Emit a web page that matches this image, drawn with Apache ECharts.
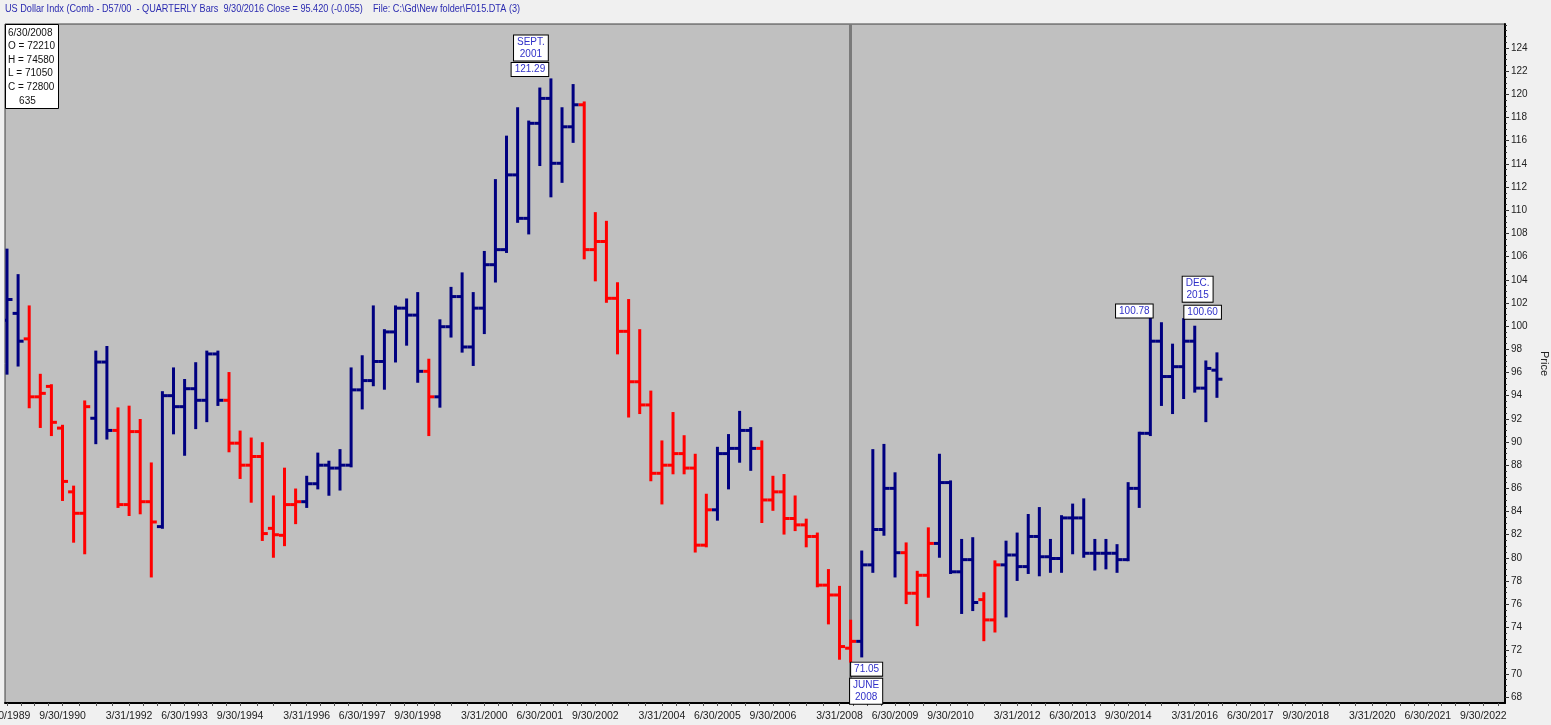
<!DOCTYPE html>
<html>
<head>
<meta charset="utf-8">
<script src="https://cdn.jsdelivr.net/npm/echarts@6/dist/echarts.min.js"></script>
<style>
html,body{margin:0;padding:0;background:#f0f0f0;}
#chart{width:1551px;height:725px;}
</style>
</head>
<body>
<div id="chart"></div>
<script>
// ---- Data (quarterly bars, first bar = 6/30/1989) ----
const opens  = [100.5,101.1,98.9,93.9,94.8,91.2,85.7,83.85,92.05,96.9,
                91.0,84.6,90.9,84.85,82.7,94.0,93.05,94.6,93.6,97.6,
                93.6,89.9,88.0,88.75,82.55,81.95,84.6,84.85,86.4,88.0,
                87.75,88.0,94.5,95.3,96.95,99.5,101.55,100.95,96.1,93.9,
                99.95,102.55,98.2,101.55,105.3,106.6,113.05,109.3,117.5,119.65,
                114.05,117.2,119.1,106.6,107.3,102.4,99.55,95.2,93.2,87.3,
                88.0,89.0,87.75,81.1,84.15,89.0,89.45,91.0,89.45,85.0,
                85.7,83.4,82.85,81.85,77.65,76.8,72.21,72.8,79.4,82.45,
                86.0,80.45,76.95,78.5,81.25,86.5,78.8,79.85,76.4,74.65,
                79.4,80.25,79.25,81.85,80.1,79.95,83.45,83.45,80.4,80.4,
                80.4,79.85,86.0,90.75,98.7,95.65,96.5,98.7,94.65,96.2];
const highs  = [106.6,104.4,101.7,95.8,94.9,91.4,86.15,93.5,97.8,98.2,
                92.9,93.05,91.9,88.15,94.3,96.35,95.35,96.8,97.8,97.8,
                95.95,90.9,90.3,89.9,85.3,87.7,85.9,87.0,89.0,88.3,
                89.3,96.35,97.4,101.7,99.65,101.7,102.3,102.85,97.1,100.5,
                103.3,104.55,102.85,106.4,112.6,116.35,118.8,117.65,120.5,121.29,
                118.8,120.8,119.3,109.75,109.0,103.7,102.25,99.65,94.35,90.05,
                92.5,90.5,88.9,85.45,89.5,90.6,92.6,91.2,90.05,87.0,
                87.15,85.3,83.3,82.1,78.95,77.5,74.58,80.55,89.3,89.75,
                87.3,81.25,78.8,82.55,88.9,86.6,81.55,81.7,76.95,79.7,
                81.4,82.1,83.7,84.3,81.55,83.6,84.6,85.05,81.55,81.55,
                81.1,86.45,90.8,100.78,100.25,98.4,100.6,99.95,96.95,97.65];
const lows   = [95.9,96.6,93.0,91.3,90.6,85.0,81.4,80.4,89.9,90.3,
                84.4,83.7,83.85,78.4,82.6,90.75,88.9,91.2,91.8,93.2,
                89.2,86.9,84.85,81.55,80.1,81.1,83.0,84.4,86.0,85.45,
                85.9,87.9,92.9,94.9,94.6,96.95,98.4,95.2,90.6,93.05,
                99.1,97.8,96.65,99.4,103.85,106.4,109.0,108.0,113.9,111.2,
                112.45,115.9,105.85,103.95,102.1,97.65,92.2,92.5,86.7,84.7,
                87.3,87.3,80.55,81.0,83.3,86.0,88.3,87.6,83.1,84.15,
                82.1,82.4,81.0,77.55,74.35,71.3,71.05,71.5,78.8,82.0,
                78.4,76.1,74.2,76.65,80.1,78.7,75.25,75.5,72.9,73.65,
                74.95,78.1,78.7,78.5,78.8,78.8,80.4,80.1,79.0,79.1,
                78.8,79.8,84.4,90.6,93.2,92.5,93.8,94.35,91.8,93.9];
const closes = [102.3,98.7,93.9,94.2,91.7,86.6,83.85,93.05,96.9,91.0,
                84.6,90.9,84.85,83.1,94.0,93.05,94.6,93.6,97.6,93.6,
                89.9,88.0,88.75,82.1,82.0,84.6,84.85,86.4,88.0,87.75,
                88.0,94.5,95.3,96.95,99.5,101.55,100.95,96.1,93.9,99.95,
                102.55,98.2,101.55,105.3,106.6,113.05,109.3,117.5,119.65,114.05,
                117.2,119.1,106.6,107.3,102.4,99.55,95.2,93.2,87.3,88.0,
                89.0,87.75,81.1,84.15,89.0,89.45,91.0,89.45,85.0,85.7,
                83.4,82.85,81.85,77.65,76.8,72.35,72.8,79.4,82.45,86.0,
                80.45,76.95,78.5,81.25,86.5,78.8,79.85,76.15,74.65,79.4,
                80.25,79.25,81.85,80.1,79.95,83.45,83.45,80.4,80.4,80.4,
                79.85,86.0,90.75,98.7,95.65,96.5,98.7,94.65,96.35,95.42];
// B = blue (up-trend), R = red (down-trend)
const trend  = ['B','B','R','R','R','R','R','R','B','B',
                'R','R','R','R','B','B','B','B','B','B',
                'R','R','R','R','R','R','R','B','B','B',
                'B','B','B','B','B','B','B','B','R','B',
                'B','B','B','B','B','B','B','B','B','B',
                'B','B','R','R','R','R','R','R','R','R',
                'R','R','R','R','B','B','B','B','R','R',
                'R','R','R','R','R','R','R','B','B','B',
                'B','R','R','R','B','B','B','B','R','R',
                'B','B','B','B','B','B','B','B','B','B',
                'B','B','B','B','B','B','B','B','B','B'];
const tickLabels = ['6/30/1989','9/30/1990','3/31/1992','6/30/1993','9/30/1994','3/31/1996',
                '6/30/1997','9/30/1998','3/31/2000','6/30/2001','9/30/2002','3/31/2004',
                '6/30/2005','9/30/2006','3/31/2008','6/30/2009','9/30/2010','3/31/2012',
                '6/30/2013','9/30/2014','3/31/2016','6/30/2017','9/30/2018','3/31/2020',
                '6/30/2021','9/30/2022'];
const priceLabels = [68,70,72,74,76,78,80,82,84,86,88,90,92,94,96,98,100,102,104,106,108,110,112,114,116,118,120,122,124];
// annotations: bar index, value, text
const annIdx   = [49, 49, 103, 106, 106, 76, 76];
const annValue = [121.29, 121.29, 100.78, 100.60, 100.60, 71.05, 71.05];
const annText  = ['121.29', 'SEPT.\n2001', '100.78', '100.60', 'DEC.\n2015', '71.05', 'JUNE\n2008'];
const cursorIdx = 76;

// ---- Categories (quarter-end dates) ----
const qNames = ['3/31','6/30','9/30','12/31'];
const quarterEnds = [];
for (let i = 0; i < 140; i++) {
  const k = i + 1;
  quarterEnds.push(qNames[k % 4] + '/' + (1989 + Math.floor(k / 4)));
}
const labelIdx = tickLabels.map(d => quarterEnds.indexOf(d));
const minorIdx = [];
for (let j = 0; j < labelIdx.length; j++) {
  const a = labelIdx[j], b = j + 1 < labelIdx.length ? labelIdx[j + 1] : a + 16 / 3;
  for (let s = 0; s < 4; s++) minorIdx.push(a + (b - a) * s / 4);
}
const minorPrice = [];
for (let v = 68; v <= 126; v += 0.5) minorPrice.push(v);

// ---- Styles ----
const BLUE = '#000080', RED = '#ff0000', BOXTXT = '#3030c8';
const annOffset = [[-21,-10],[-20,-31.5],[-16,-6],[19,-7],[14,-30],[16,7.5],[15.5,29.5]];
const FONT = '"Liberation Sans", Arial';
const gridRect = {left: 5, top: 24, right: 46, bottom: 22, containLabel: false, outerBoundsMode: 'none'};
const Y_MIN = 67.48, Y_MAX = 126.07, X_MIN = -0.18, X_MAX = 134.95;

const ohlcData = opens.map((o, i) => [i, o, closes[i], lows[i], highs[i], trend[i] === 'B' ? 1 : 0]);
const annData = annIdx.map((d, k) => [d, annValue[k], k]);

const chart = echarts.init(document.getElementById('chart'));
chart.setOption({
  animation: false,
  backgroundColor: '#f0f0f0',
  grid: [
    Object.assign({show: true, backgroundColor: '#c0c0c0', borderColor: '#404040', borderWidth: 1}, gridRect),
    Object.assign({show: false}, gridRect)
  ],
  xAxis: [{
    type: 'value', min: X_MIN, max: X_MAX, gridIndex: 0, position: 'bottom',
    splitLine: {show: false},
    axisLine: {show: true, onZero: false, lineStyle: {color: '#000', width: 2}},
    axisTick: {show: true, length: 3, lineStyle: {color: '#555'}, customValues: minorIdx},
    axisLabel: {customValues: labelIdx, margin: 8, color: '#222', fontSize: 10.5, fontFamily: FONT,
      formatter: v => quarterEnds[Math.round(v)] || ''}
  }, {
    type: 'value', min: X_MIN, max: X_MAX, gridIndex: 1, position: 'bottom', show: false
  }],
  yAxis: [{
    type: 'value', position: 'right', min: Y_MIN, max: Y_MAX, gridIndex: 0,
    splitLine: {show: false},
    axisLine: {show: true, onZero: false, lineStyle: {color: '#000', width: 2}},
    axisTick: {show: true, length: 4, lineStyle: {color: '#333'}, customValues: priceLabels},
    axisLabel: {customValues: priceLabels, margin: 6, color: '#222', fontSize: 10, fontFamily: FONT},
    name: 'Price', nameLocation: 'middle', nameRotate: -90, nameGap: 27,
    nameTextStyle: {color: '#222', fontSize: 11, fontFamily: FONT}
  }, {
    type: 'value', position: 'right', min: Y_MIN, max: Y_MAX, gridIndex: 1,
    splitLine: {show: false}, axisLine: {show: false, onZero: false},
    axisTick: {show: true, length: 2, lineStyle: {color: '#333'}, customValues: minorPrice},
    axisLabel: {show: false}
  }],
  graphic: [
    {type: 'text', left: 5, top: 4, scaleX: 0.87, style: {text: 'US Dollar Indx (Comb - D57/00  - QUARTERLY Bars  9/30/2016 Close = 95.420 (-0.055)    File: C:\\Gd\\New folder\\F015.DTA (3)',
      fill: '#2a2ab0', font: '10.5px ' + FONT}},
    {type: 'rect', left: 5, top: 24, shape: {width: 53, height: 84}, style: {fill: '#fff', stroke: '#000', lineWidth: 1}, z: 10},
    {type: 'text', left: 8, top: 26, z: 11, style: {text: '6/30/2008\nO = 72210\nH = 74580\nL = 71050\nC = 72800\n    635',
      fill: '#111', font: '10px ' + FONT, lineHeight: 13.6}}
  ],
  series: [{
    type: 'custom', name: 'cursor', data: [], z: 1,
    renderItem: () => null,
    markLine: {silent: true, symbol: 'none', z: 1, label: {show: false},
      lineStyle: {color: '#7a7a7a', width: 3, type: 'solid'}, data: [{xAxis: cursorIdx}]}
  }, {
    type: 'custom', name: 'USD', z: 3, clip: true,
    data: ohlcData,
    encode: {x: 0, y: [1, 2, 3, 4]},
    renderItem: function (params, api) {
      const i = api.value(0);
      const pH = api.coord([i, api.value(4)]);
      const yL = api.coord([i, api.value(3)])[1];
      const yO = api.coord([i, api.value(1)])[1];
      const yC = api.coord([i, api.value(2)])[1];
      const x = pH[0];
      const st = {stroke: api.value(5) ? BLUE : RED, lineWidth: 3};
      const t = 5.5;
      return {type: 'group', children: [
        {type: 'line', shape: {x1: x, y1: pH[1] - 1, x2: x, y2: yL + 1}, style: st},
        {type: 'line', shape: {x1: x - t, y1: yO, x2: x, y2: yO}, style: st},
        {type: 'line', shape: {x1: x, y1: yC, x2: x + t, y2: yC}, style: st}
      ]};
    }
  }, {
    type: 'custom', name: 'annotations', z: 5, clip: false,
    data: annData,
    renderItem: function (params, api) {
      const k = api.value(2);
      const p = api.coord([api.value(0), api.value(1)]);
      const off = annOffset[k];
      return {type: 'text', x: p[0] + off[0], y: p[1] + off[1],
        style: {text: annText[k], fill: BOXTXT, font: '10px ' + FONT, align: 'center', verticalAlign: 'middle',
          backgroundColor: '#fff', borderColor: '#000', borderWidth: 1, padding: [1, 3, 0, 3], lineHeight: 12}};
    }
  }]
});
</script>
</body>
</html>
